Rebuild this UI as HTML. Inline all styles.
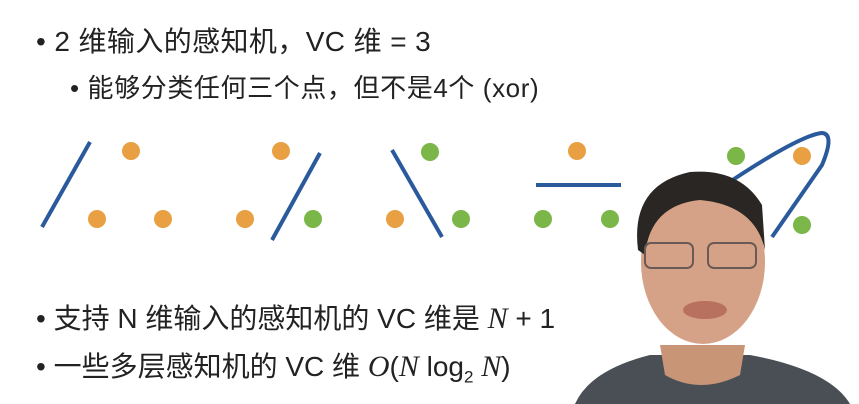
<!DOCTYPE html>
<html><head><meta charset="utf-8"><style>
body{margin:0;width:859px;height:404px;background:#fff;overflow:hidden;position:relative;font-family:"Liberation Sans","Noto Sans CJK SC",sans-serif;color:#222}
.t{position:absolute;white-space:nowrap;line-height:1}
i{font-family:"Liberation Serif",serif;font-size:30px}
</style></head><body>
<svg width="859" height="404" style="position:absolute;left:0;top:0">
<g stroke="#2a5a9c" stroke-width="4" fill="none" stroke-linecap="butt">
<line x1="90" y1="142" x2="42" y2="227"/>
<line x1="320" y1="153" x2="272" y2="240"/>
<line x1="392" y1="150" x2="442" y2="237"/>
<line x1="536" y1="185" x2="621" y2="185"/>
<path d="M725 185 Q800 135 822 133 Q835 134 822 165 L772 237"/>
</g>
<g fill="#e8a043">
<circle cx="131" cy="151" r="9"/><circle cx="97" cy="219" r="9"/><circle cx="163" cy="219" r="9"/>
<circle cx="281" cy="151" r="9"/><circle cx="245" cy="219" r="9"/>
<circle cx="395" cy="219" r="9"/><circle cx="577" cy="151" r="9"/><circle cx="802" cy="156" r="9"/>
</g>
<g fill="#7ab648">
<circle cx="313" cy="219" r="9"/><circle cx="430" cy="152" r="9"/><circle cx="461" cy="219" r="9"/>
<circle cx="543" cy="219" r="9"/><circle cx="610" cy="219" r="9"/><circle cx="736" cy="156" r="9"/><circle cx="802" cy="225" r="9"/>
</g>
<path d="M575 404 Q590 370 650 355 L750 355 Q830 370 850 404Z" fill="#4a4e55"/>
<path d="M660 345 L745 345 L740 375 Q700 395 665 375Z" fill="#c99577"/>
<ellipse cx="703" cy="262" rx="62" ry="82" fill="#d6a287"/>
<path d="M638 250 Q630 185 690 172 Q740 168 762 205 L765 250 Q755 205 700 200 Q650 205 645 255Z" fill="#2a2624"/>
<g fill="none" stroke="#6a5a55" stroke-width="2"><rect x="645" y="243" width="48" height="25" rx="6"/><rect x="708" y="243" width="48" height="25" rx="6"/></g>
<ellipse cx="705" cy="310" rx="22" ry="9" fill="#b8705f"/>
</svg>
<div class="t" style="left:36px;top:28px;font-size:28px;letter-spacing:0.4px">• 2 维输入的感知机，VC 维 = 3</div>
<div class="t" style="left:70px;top:75px;font-size:26px;letter-spacing:0.6px">• 能够分类任何三个点，但不是4个 (xor)</div>
<div class="t" style="left:36px;top:304px;font-size:28px">• 支持 N 维输入的感知机的 VC 维是 <i>N</i> + 1</div>
<div class="t" style="left:36px;top:352px;font-size:28px">• 一些多层感知机的 VC 维 <i>O</i>(<i>N</i> log<sub style="font-size:17px">2</sub> <i>N</i>)</div>
</body></html>
